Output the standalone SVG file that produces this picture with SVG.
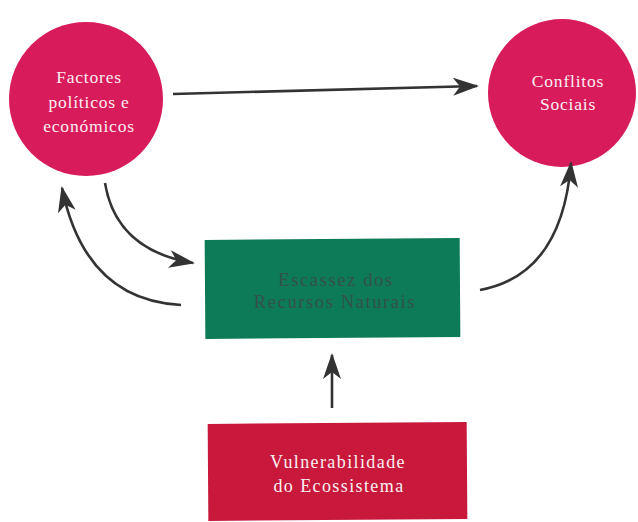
<svg xmlns="http://www.w3.org/2000/svg" width="638" height="522" viewBox="0 0 638 522">
<defs>
<marker id="ah" viewBox="0 0 26 18" refX="24" refY="9" markerWidth="26" markerHeight="18" markerUnits="userSpaceOnUse" orient="auto">
<path d="M0,0 L26,9 L0,18 L7,9 Z" fill="#333"/>
</marker>
</defs>
<style>
.lbl{font-family:'Liberation Serif','Times New Roman',serif;font-size:17.5px;text-anchor:middle;letter-spacing:0.8px}
.w{fill:#fbeef2}
.g{fill:#34514a;font-size:18.5px;letter-spacing:1.6px}
.v{letter-spacing:1.4px;font-size:18px}
.c{fill:none;stroke:#333;stroke-width:2.6}
</style>
<rect width="638" height="522" fill="#ffffff"/>
<g id="factores">
<circle cx="86" cy="99" r="77" fill="#d81b5b"/>
<text class="lbl w" x="89" y="83">Factores</text>
<text class="lbl w" x="89" y="108">políticos e</text>
<text class="lbl w" x="89" y="132">económicos</text>
</g>
<g id="conflitos">
<circle cx="562" cy="93" r="74" fill="#d81b5b"/>
<text class="lbl w" x="568" y="87">Conflitos</text>
<text class="lbl w" x="568" y="110">Sociais</text>
</g>
<g id="escassez">
<rect x="205" y="239" width="255" height="99" fill="#0d7a58" transform="rotate(-0.4 332 288)"/>
<text class="lbl g" x="336" y="286">Escassez dos</text>
<text class="lbl g" x="335" y="308">Recursos Naturais</text>
</g>
<g id="vulnerabilidade">
<rect x="208" y="423" width="259" height="97" fill="#c8193c" transform="rotate(-0.4 337 471)"/>
<text class="lbl w v" x="338" y="468">Vulnerabilidade</text>
<text class="lbl w v" x="339" y="492">do Ecossistema</text>
</g>
<g id="connectors">
<path class="c" d="M173,94 L477,86" marker-end="url(#ah)"/>
<path class="c" d="M105,183 Q116,250 193,263" marker-end="url(#ah)"/>
<path class="c" d="M181,305 Q85,300 62,188" marker-end="url(#ah)"/>
<path class="c" d="M480,290 Q562,275 571,163" marker-end="url(#ah)"/>
<path class="c" d="M332,408 L332,355" marker-end="url(#ah)"/>
</g>
</svg>
